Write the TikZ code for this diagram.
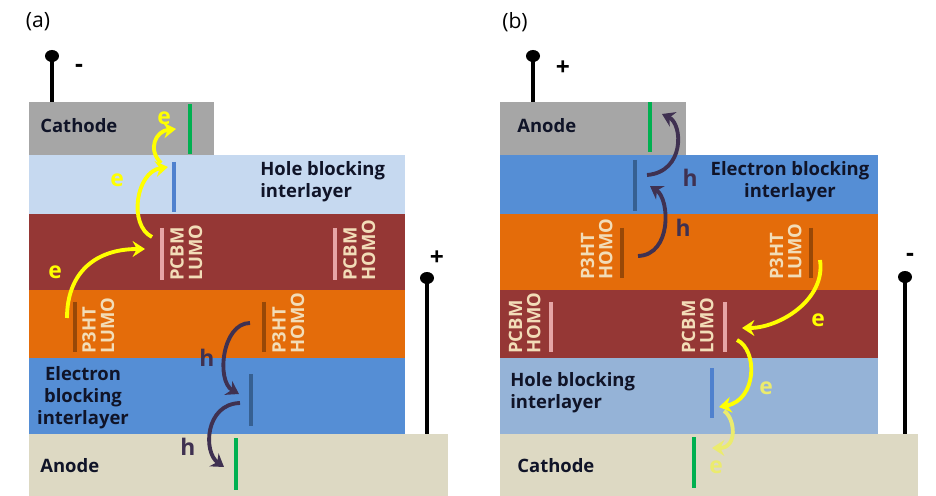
\documentclass[tikz,border=0pt]{standalone}
\usepackage{fontspec}
\setmainfont{Open Sans}
\usepackage{tikz}
\usetikzlibrary{arrows.meta, positioning}
\definecolor{cgray}{RGB}{166,166,166}
\definecolor{hblight}{RGB}{198,217,240}
\definecolor{hbmid}{RGB}{149,179,215}
\definecolor{ebblue}{RGB}{85,142,213}
\definecolor{pcbmred}{RGB}{149,55,53}
\definecolor{p3htor}{RGB}{228,108,10}
\definecolor{beige}{RGB}{221,217,195}
\definecolor{mygreen}{RGB}{0,176,80}
\definecolor{barblue}{RGB}{79,129,206}
\definecolor{bardark}{RGB}{54,96,146}
\definecolor{barpink}{RGB}{230,165,165}
\definecolor{barbrown}{RGB}{152,72,7}
\definecolor{orbtext}{RGB}{242,221,184}
\definecolor{eyellow}{RGB}{255,255,0}
\definecolor{epale}{RGB}{235,235,110}
\definecolor{hpurple}{RGB}{63,49,81}
\definecolor{txtdark}{RGB}{16,20,40}
\tikzset{
  lvlbar/.style={line width=2.8pt},
  layertxt/.style={font=\fontsize{10.5}{12.5}\selectfont\bfseries, text=txtdark,
    inner sep=0pt, align=left},
  orbtxt/.style={rotate=90, font=\fontsize{10.5}{10.5}\selectfont\bfseries, text=orbtext,
    inner sep=0pt, align=left},
  earrow/.style={-{Stealth[length=7pt,width=9pt]}, line width=2.2pt, color=eyellow},
  harrow/.style={-{Stealth[length=7pt,width=9pt]}, line width=2.2pt, color=hpurple},
  elbl/.style={font=\fontsize{13}{13}\selectfont\bfseries, text=eyellow, inner sep=0pt},
  hlbl/.style={font=\fontsize{13}{13}\selectfont\bfseries, text=hpurple, inner sep=0pt},
  termdot/.style={ellipse, fill=black, inner sep=0pt, minimum width=0.28cm, minimum height=0.24cm},
  term/.style={line width=2.8pt, black},
  sign/.style={font=\fontsize{14}{14}\selectfont\bfseries, inner sep=0pt},
  panel/.style={font=\fontsize{12}{12}\selectfont, inner sep=0pt}
}
\usetikzlibrary{shapes.geometric}

\begin{document}
\begin{tikzpicture}[x=0.02cm, y=-0.02cm]
  \useasboundingbox (0,0) rectangle (936,496);

  % ---------------- (a) ----------------
  \node[panel] (aLbl) at (38,22) {(a)};

  % Layers
  \fill[cgray]   (29,102) rectangle (214,155);
  \fill[hblight] (29,155) rectangle (405,214);
  \fill[pcbmred] (29,214) rectangle (405,290);
  \fill[p3htor]  (29,290) rectangle (405,358);
  \fill[ebblue]  (29,358) rectangle (405,434);
  \fill[beige]   (29,434) rectangle (448,496);

  \node[layertxt, anchor=west] (aCath) at (40,126) {Cathode};
  \node[layertxt, anchor=west] (aHbl) at (260,182) {Hole blocking\\interlayer};
  \node[layertxt, align=center] (aEbl) at (83,398) {Electron\\blocking\\interlayer};
  \node[layertxt, anchor=west] (aAnod) at (40,466) {Anode};

  % Levels
  \draw[lvlbar, mygreen]  (190,104) -- (190,154);
  \draw[lvlbar, barblue]  (174,162) -- (174,212);
  \draw[lvlbar, barpink]  (162,228) -- (162,280);
  \draw[lvlbar, barpink]  (335,228) -- (335,280);
  \draw[lvlbar, barbrown] (75,302)  -- (75,352);
  \draw[lvlbar, barbrown] (264,302) -- (264,352);
  \draw[lvlbar, bardark]  (251,374) -- (251,426);
  \draw[lvlbar, mygreen]  (236,438) -- (236,490);

  \node[orbtxt, anchor=north west] (aPL) at (170,281) {PCBM\\LUMO};
  \node[orbtxt, anchor=north west] (aPH) at (343,281) {PCBM\\HOMO};
  \node[orbtxt, anchor=north west] (aTL) at (82,354)  {P3HT\\LUMO};
  \node[orbtxt, anchor=north west] (aTH) at (272,354) {P3HT\\HOMO};

  % Terminals
  \node[termdot] (aTop) at (52,56) {};
  \draw[term] (aTop.center) -- (52,102);
  \node[sign] (aMinus) at (79,68) {-};
  \node[termdot] (aSide) at (427,278) {};
  \draw[term] (aSide.center) -- (427,434);
  \node[sign] (aPlus) at (437,258) {+};

  % Carriers
  \coordinate (ae1a) at (67,318);  \coordinate (ae1b) at (145,249);
  \coordinate (ae2a) at (152,237); \coordinate (ae2b) at (168,167);
  \coordinate (ae3a) at (161,163); \coordinate (ae3b) at (176,129);
  \coordinate (ah1a) at (250,323); \coordinate (ah1b) at (239,394);
  \coordinate (ah2a) at (240,403); \coordinate (ah2b) at (224,467);
  \draw[earrow] (ae1a) .. controls +(0,-45) and +(-50,0) .. (ae1b);
  \draw[earrow] (ae2a) .. controls +(-24,-12) and +(-32,5) .. (ae2b);
  \draw[earrow] (ae3a) .. controls +(-14,-14) and +(-20,2) .. (ae3b);
  \draw[harrow] (ah1a) .. controls +(-28,0) and +(-23,-13) .. (ah1b);
  \draw[harrow] (ah2a) .. controls +(-35,1) and +(-21,-15) .. (ah2b);
  \node[elbl] (ae1l) at (55,272) {e};
  \node[elbl] (ae2l) at (117,180) {e};
  \node[elbl] (ae3l) at (164,118) {e};
  \node[hlbl] (ah1l) at (207,358) {h};
  \node[hlbl] (ah2l) at (188,447) {h};

  % ---------------- (b) ----------------
  \node[panel] (bLbl) at (515,22) {(b)};

  % Layers
  \fill[cgray]   (500,102) rectangle (686,155);
  \fill[ebblue]  (500,155) rectangle (878,214);
  \fill[p3htor]  (500,214) rectangle (878,290);
  \fill[pcbmred] (500,290) rectangle (878,358);
  \fill[hbmid]   (500,358) rectangle (878,434);
  \fill[beige]   (500,434) rectangle (918,496);

  \node[layertxt, anchor=west] (bAnod) at (517,126) {Anode};
  \node[layertxt, align=center] (bEbl) at (790,182) {Electron blocking\\interlayer};
  \node[layertxt, anchor=west] (bHbl) at (510,393) {Hole blocking\\interlayer};
  \node[layertxt, anchor=west] (bCath) at (517,466) {Cathode};

  % Levels
  \draw[lvlbar, mygreen]  (650,102) -- (650,152);
  \draw[lvlbar, bardark]  (635,160) -- (635,211);
  \draw[lvlbar, barbrown] (622,228) -- (622,278);
  \draw[lvlbar, barbrown] (811,228) -- (811,278);
  \draw[lvlbar, barpink]  (551,302) -- (551,352);
  \draw[lvlbar, barpink]  (725,302) -- (725,352);
  \draw[lvlbar, barblue]  (712,368) -- (712,418);
  \draw[lvlbar, mygreen]  (694,437) -- (694,488);

  \node[orbtxt, anchor=south west] (bTH) at (613,280) {P3HT\\HOMO};
  \node[orbtxt, anchor=south west] (bTL) at (802,280) {P3HT\\LUMO};
  \node[orbtxt, anchor=south west] (bPH) at (541,354) {PCBM\\HOMO};
  \node[orbtxt, anchor=south west] (bPL) at (714,354) {PCBM\\LUMO};

  % Terminals
  \node[termdot] (bTop) at (533,56) {};
  \draw[term] (bTop.center) -- (533,102);
  \node[sign] (bPlus) at (563,68) {+};
  \node[termdot] (bSide) at (905,277) {};
  \draw[term] (bSide.center) -- (905,434);
  \node[sign] (bMinus) at (910,257) {-};

  % Carriers
  \coordinate (bh1a) at (647,175); \coordinate (bh1b) at (662,114);
  \coordinate (bh2a) at (638,256); \coordinate (bh2b) at (650,186);
  \coordinate (be1a) at (820,260); \coordinate (be1b) at (742,328);
  \coordinate (be2a) at (737,340); \coordinate (be2b) at (719,407);
  \coordinate (be3a) at (724,411); \coordinate (be3b) at (712,448);
  \draw[harrow] (bh1a) .. controls +(38,-3) and +(21,10) .. (bh1b);
  \draw[harrow] (bh2a) .. controls +(34,-1) and +(20,13) .. (bh2b);
  \draw[earrow] (be1a) .. controls +(6,40) and +(37,0) .. (be1b);
  \draw[earrow] (be2a) .. controls +(21,10) and +(38,-7) .. (be2b);
  \draw[earrow, color=epale] (be3a) .. controls +(11,7) and +(26,0) .. (be3b);
  \node[hlbl] (bh1l) at (690,178) {h};
  \node[hlbl] (bh2l) at (683,228) {h};
  \node[elbl] (be1l) at (818,320) {e};
  \node[elbl, text=epale] (be2l) at (766,388) {e};
  \node[elbl, text=epale] (be3l) at (716,467) {e};
\end{tikzpicture}
\end{document}
